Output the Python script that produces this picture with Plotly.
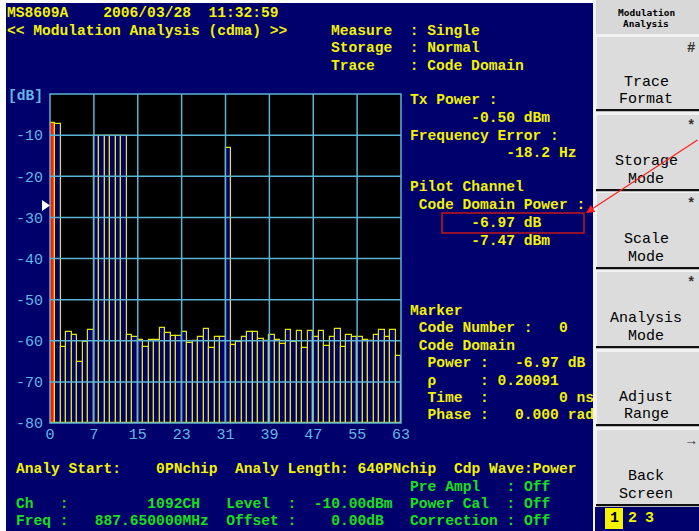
import plotly.graph_objects as go

# ---------------- data ----------------
codes = list(range(64))
power_db = [
    -6.97, -7.3, -61.6, -57.9, -58.7, -65.1, -60.2, -57.4,   # 0-7
    -10.1, -10.1, -10.1, -10.1, -10.1, -10.1, -58.7, -59.0,  # 8-15
    -59.8, -61.6, -59.8, -59.8, -56.9, -58.1, -58.8, -58.8,  # 16-23
    -57.9, -60.5, -60.0, -59.0, -57.1, -61.8, -59.0, -59.0,  # 24-31
    -13.1, -61.1, -60.2, -59.0, -57.9, -57.9, -59.5, -60.0,  # 32-39
    -58.5, -59.7, -60.8, -57.4, -60.2, -57.6, -61.8, -57.6,  # 40-47
    -59.2, -57.6, -61.3, -59.2, -57.1, -61.6, -58.7, -59.2,  # 48-55
    -59.0, -59.7, -60.0, -58.7, -57.3, -59.2, -57.3, -63.8,  # 56-63
]
marker_code = 0
y_ticks = [-10, -20, -30, -40, -50, -60, -70, -80]
x_tick_pos = [0, 8, 16, 24, 32, 40, 48, 56, 64]
x_tick_labels = ["0", "7", "15", "23", "31", "39", "47", "55", "63"]
ref_level_db = -27.1
Y_MIN, Y_MAX = -80, 0

# ---------------- style ----------------
W, H = 699, 531
L, R, T, B = 50, 401, 94, 423
NAVY = "#00006c"
YEL = "#f2f200"
GRN = "#18e018"
BLU = "#62b8e4"
GRID = "#5ab4d6"
MONO = "Liberation Mono"
FS = 14.6


def X(px):
    return (px - L) / (R - L)


def Y(py):
    return (B - py) / (B - T)


def nb(s):
    return s.replace(" ", "\u00a0")


def line_from(segs):
    s = ""
    for col, t in segs:
        s = s.ljust(col) + t
    return s


annotations = []
shapes = []


def txt(px, py, s, color=YEL, size=FS, anchor="left", family=MONO, bg=None, weight="bold"):
    annotations.append(dict(
        x=X(px), y=Y(py), xref="paper", yref="paper", text=nb(s),
        showarrow=False, xanchor=anchor, yanchor="middle", borderpad=0,
        font=dict(family=family, size=size, color=color, weight=weight),
        bgcolor=bg,
    ))


def rect(x0, y0, x1, y1, fill, line=None, lw=0, layer="above"):
    shapes.append(dict(
        type="rect", xref="paper", yref="paper",
        x0=X(x0), x1=X(x1), y0=Y(y0), y1=Y(y1),
        fillcolor=fill, line=dict(color=line or fill, width=lw), layer=layer,
    ))


# ---------------- bars ----------------
fills = ["#ff1a00" if c == marker_code else NAVY for c in codes]
bar = go.Bar(
    x=[c + 0.5 for c in codes],
    y=[v - Y_MIN for v in power_db],
    base=Y_MIN,
    width=1,
    marker=dict(color=fills, line=dict(color="#e6e600", width=1.2)),
    hoverinfo="skip",
)

fig = go.Figure([bar])

# grid lines drawn above the bars
for yv in y_ticks[:-1]:
    shapes.append(dict(type="line", xref="paper", yref="y", x0=0, x1=1, y0=yv, y1=yv,
                       line=dict(color=GRID, width=1.5), layer="above"))
for xv in x_tick_pos[1:-1]:
    shapes.append(dict(type="line", xref="x", yref="paper", x0=xv, x1=xv, y0=0, y1=1,
                       line=dict(color=GRID, width=1.5), layer="above"))
shapes.append(dict(type="rect", xref="paper", yref="paper", x0=0, x1=1, y0=0, y1=1,
                   line=dict(color=GRID, width=1.5), layer="above"))

# reference level marker (white triangle left of the axis)
tri_h = 1.35  # half height in dB
shapes.append(dict(
    type="path", xref="paper", yref="y",
    path=f"M {X(42)} {ref_level_db + tri_h} L {X(50)} {ref_level_db} L {X(42)} {ref_level_db - tri_h} Z",
    fillcolor="white", line=dict(color="white", width=0), layer="above",
))

# white edges of the screen capture
rect(0, 0, 6, H, "white")
rect(0, 0, W, 3, "white")

# ---------------- header text ----------------
txt(6, 12.5, "MS8609A    2006/03/28  11:32:59")
txt(6, 30.5, "<< Modulation Analysis (cdma) >>")
txt(330, 30.5, "Measure  : Single")
txt(330, 48, "Storage  : Normal")
txt(330, 65.5, "Trace    : Code Domain")
txt(7, 96, "[dB]", color=BLU)

# ---------------- right info block ----------------
info_lines = [
    (100, "Tx Power :"),
    (118, "       -0.50 dBm"),
    (136, "Frequency Error :"),
    (153, "           -18.2 Hz"),
    (187, "Pilot Channel"),
    (205, " Code Domain Power :"),
    (223, "       -6.97 dB"),
    (241, "       -7.47 dBm"),
    (311, "Marker"),
    (328, " Code Number :   0"),
    (346, " Code Domain"),
    (363, "  Power :   -6.97 dB"),
    (381, "  \u03c1     : 0.20091"),
    (398, "  Time  :        0 ns"),
    (415, "  Phase :   0.000 rad"),
]
for py, s in info_lines:
    txt(409, py, s)

# highlight box around pilot power
shapes.append(dict(type="rect", xref="paper", yref="paper",
                   x0=X(442), x1=X(584), y0=Y(233), y1=Y(213),
                   line=dict(color="#c01818", width=1.5), layer="above"))

# ---------------- bottom text ----------------
txt(15, 469, line_from([(0, "Analy Start:"), (16, "0PNchip"), (25, "Analy Length:"),
                        (39, "640PNchip"), (50, "Cdp Wave:Power")]))
txt(15, 486.5, line_from([(45, "Pre Ampl   : Off")]), color=GRN)
txt(15, 504, line_from([(0, "Ch   :"), (15, "1092CH"), (24, "Level  :"), (34, "-10.00dBm"),
                        (45, "Power Cal  : Off")]), color=GRN)
txt(15, 521, line_from([(0, "Freq :"), (9, "887.650000MHz"), (24, "Offset :"), (36, "0.00dB"),
                        (45, "Correction : Off")]), color=GRN)

# ---------------- soft-key panel ----------------
rect(593, 0, W, H, "#f2f2f2")
rect(596, 0, W, 34, "#d8d8d8")
txt(646, 12, "Modulation", color="black", size=9.5, anchor="center", family="DejaVu Sans Mono")
txt(646, 24, "Analysis", color="black", size=9.5, anchor="center", family="DejaVu Sans Mono")

buttons = [
    (37, 110, "Trace", "Format", "#"),
    (115, 190, "Storage", "Mode", "*"),
    (193, 268, "Scale", "Mode", "*"),
    (272, 347, "Analysis", "Mode", "*"),
    (352, 425, "Adjust", "Range", ""),
    (430, 505, "Back", "Screen", "\u2192"),
]
for top, bot, l1, l2, mark in buttons:
    rect(597, top, W, bot, "#dcdcdc")
    rect(596, bot - 1, W, bot + 1.2, "#101010")
    h = bot - top
    txt(646, top + h * 0.62, l1, color="black", size=15, anchor="center", weight="normal")
    txt(646, top + h * 0.86, l2, color="black", size=15, anchor="center", weight="normal")
    if mark:
        txt(691, top + 11, mark, color="#333333", size=14, anchor="center")

rect(595, 507, W, H, NAVY)
rect(605, 508, 623, 529, "#f4f400")
txt(614, 518.5, "1", color="black", size=15, anchor="center")
txt(632, 518.5, "2", color=YEL, size=15, anchor="center")
txt(649, 518.5, "3", color=YEL, size=15, anchor="center")

# arrow pointing at the highlighted value
annotations.append(dict(
    x=X(586), y=Y(213), xref="paper", yref="paper", text="",
    showarrow=True, ax=114, ay=-74, arrowcolor="#ff2020",
    arrowwidth=1.2, arrowhead=2, arrowsize=1.4,
))

fig.update_layout(
    width=W, height=H,
    margin=dict(l=L, r=W - R, t=T, b=H - B, pad=0),
    paper_bgcolor=NAVY,
    plot_bgcolor="black",
    showlegend=False,
    bargap=0,
    shapes=shapes,
    annotations=annotations,
    xaxis=dict(range=[0, 64], tickvals=x_tick_pos, ticktext=x_tick_labels,
               showgrid=False, zeroline=False, showline=False, ticks="",
               tickfont=dict(family=MONO, size=15, color=BLU), fixedrange=True),
    yaxis=dict(range=[Y_MIN, Y_MAX], tickvals=y_ticks, ticktext=[str(v) for v in y_ticks],
               ticklabelstandoff=6,
               showgrid=False, zeroline=False, showline=False, ticks="",
               tickfont=dict(family=MONO, size=15, color=BLU), fixedrange=True),
)

fig.write_html(
    "out.html",
    config={"displayModeBar": False},
    post_script="document.body.style.margin='0px';document.body.style.overflow='hidden';",
)
